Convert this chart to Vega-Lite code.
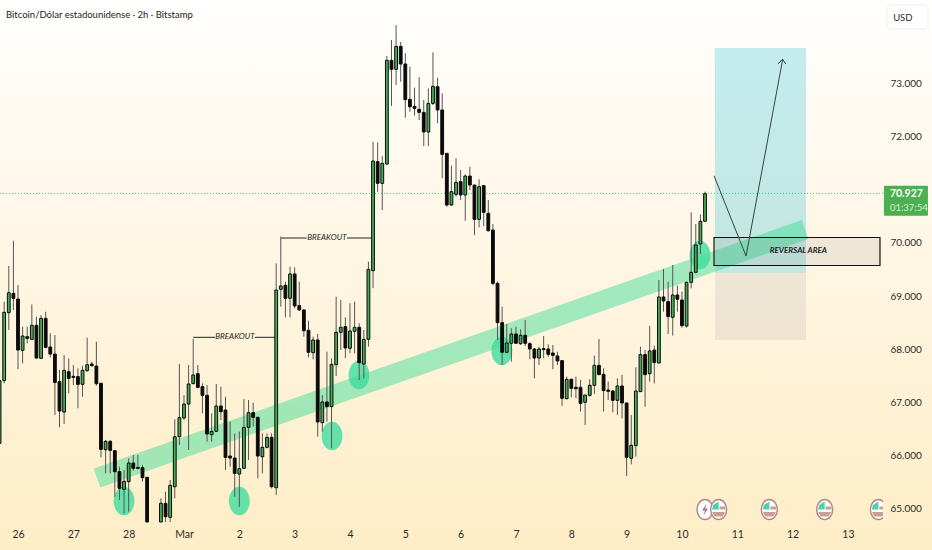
{
  "$schema": "https://vega.github.io/schema/vega-lite/v6.json",
  "description": "Bitcoin/Dolar estadounidense 2h candles with trend band and reversal area",
  "width": 932,
  "height": 550,
  "padding": 0,
  "autosize": {"type": "none"},
  "config": {
    "view": {
      "stroke": null,
      "fill": {"gradient": "linear", "x1": 0, "y1": 0, "x2": 0, "y2": 1, "stops": [
        {"offset": 0, "color": "#fffffe"},
        {"offset": 0.35, "color": "#fff8ea"},
        {"offset": 1, "color": "#feedc6"}
      ]}
    },
    "text": {"font": "Lato"},
    "axis": {"labelFont": "Lato"}
  },
  "datasets": {
    "candles": [
      {"t":-8,"o":66233,"h":67579,"l":66233,"c":67410},
      {"t":-6,"o":67410,"h":68893,"l":67360,"c":68693},
      {"t":-4,"o":68687,"h":69563,"l":68361,"c":69062},
      {"t":-2,"o":69050,"h":70039,"l":68737,"c":68956},
      {"t":0,"o":68943,"h":69206,"l":67629,"c":67986},
      {"t":2,"o":67979,"h":68424,"l":67735,"c":68249},
      {"t":4,"o":68236,"h":68424,"l":68111,"c":68205},
      {"t":6,"o":68186,"h":68843,"l":68173,"c":68449},
      {"t":8,"o":68449,"h":68612,"l":67823,"c":67835},
      {"t":10,"o":67829,"h":68643,"l":67817,"c":68580},
      {"t":12,"o":68580,"h":68705,"l":68017,"c":68036},
      {"t":14,"o":68042,"h":68299,"l":67848,"c":67910},
      {"t":16,"o":67910,"h":68267,"l":66765,"c":67378},
      {"t":18,"o":67391,"h":67610,"l":66533,"c":66840},
      {"t":20,"o":66821,"h":67892,"l":66596,"c":67604},
      {"t":22,"o":67579,"h":67829,"l":67172,"c":67453},
      {"t":24,"o":67491,"h":67704,"l":67328,"c":67472},
      {"t":26,"o":67485,"h":67641,"l":66890,"c":67341},
      {"t":28,"o":67341,"h":67691,"l":67109,"c":67604},
      {"t":30,"o":67597,"h":68217,"l":67579,"c":67710},
      {"t":32,"o":67723,"h":67767,"l":67673,"c":67691},
      {"t":34,"o":67685,"h":68142,"l":67316,"c":67353},
      {"t":36,"o":67360,"h":67372,"l":65970,"c":66120},
      {"t":38,"o":66114,"h":66295,"l":65669,"c":66270},
      {"t":40,"o":66270,"h":66295,"l":65669,"c":66101},
      {"t":42,"o":66095,"h":66108,"l":65231,"c":65701},
      {"t":44,"o":65701,"h":65795,"l":65169,"c":65388},
      {"t":46,"o":65369,"h":65732,"l":64918,"c":65519},
      {"t":48,"o":65513,"h":65951,"l":64950,"c":65863},
      {"t":50,"o":65863,"h":66014,"l":65719,"c":65763},
      {"t":52,"o":65782,"h":66014,"l":65744,"c":65763},
      {"t":54,"o":65776,"h":65826,"l":65513,"c":65588},
      {"t":56,"o":65594,"h":65607,"l":64756,"c":64756},
      {"t":62,"o":64756,"h":65200,"l":64756,"c":65106},
      {"t":64,"o":65106,"h":65325,"l":64756,"c":64855},
      {"t":66,"o":64843,"h":65544,"l":64756,"c":65444},
      {"t":68,"o":65419,"h":66684,"l":65200,"c":66358},
      {"t":70,"o":66358,"h":67723,"l":66202,"c":66715},
      {"t":72,"o":66709,"h":67140,"l":66671,"c":66971},
      {"t":74,"o":66971,"h":67704,"l":66108,"c":67347},
      {"t":76,"o":67353,"h":68192,"l":67353,"c":67516},
      {"t":78,"o":67541,"h":67704,"l":67266,"c":67284},
      {"t":80,"o":67297,"h":67360,"l":66796,"c":67134},
      {"t":82,"o":67134,"h":67328,"l":66264,"c":66408},
      {"t":84,"o":66395,"h":66796,"l":66264,"c":66458},
      {"t":86,"o":66458,"h":67347,"l":66452,"c":66934},
      {"t":88,"o":66934,"h":67297,"l":66671,"c":66827},
      {"t":90,"o":66859,"h":67109,"l":65732,"c":65970},
      {"t":92,"o":65995,"h":66640,"l":65795,"c":65957},
      {"t":94,"o":65957,"h":66420,"l":65231,"c":65669},
      {"t":96,"o":65657,"h":66452,"l":65043,"c":65757},
      {"t":98,"o":65763,"h":67065,"l":65763,"c":66533},
      {"t":100,"o":66533,"h":67047,"l":65920,"c":66809},
      {"t":102,"o":66809,"h":66997,"l":66546,"c":66721},
      {"t":104,"o":66721,"h":66734,"l":65575,"c":65995},
      {"t":106,"o":65982,"h":66420,"l":65669,"c":66158},
      {"t":108,"o":66158,"h":66420,"l":66139,"c":66345},
      {"t":110,"o":66345,"h":66420,"l":65388,"c":65419},
      {"t":112,"o":65400,"h":69613,"l":65262,"c":69112},
      {"t":114,"o":69126,"h":70115,"l":68800,"c":69188},
      {"t":116,"o":69201,"h":69270,"l":68600,"c":68957},
      {"t":118,"o":68957,"h":69551,"l":68600,"c":69414},
      {"t":120,"o":69414,"h":69539,"l":68769,"c":68813},
      {"t":122,"o":68819,"h":69270,"l":68725,"c":68738},
      {"t":124,"o":68738,"h":68750,"l":68237,"c":68349},
      {"t":126,"o":68356,"h":68537,"l":67849,"c":67943},
      {"t":128,"o":67936,"h":68237,"l":67811,"c":68174},
      {"t":130,"o":68174,"h":68287,"l":66359,"c":66634},
      {"t":132,"o":66622,"h":67141,"l":66453,"c":67010},
      {"t":134,"o":67010,"h":67955,"l":66640,"c":66922},
      {"t":136,"o":66922,"h":67830,"l":66140,"c":67717},
      {"t":138,"o":67711,"h":68988,"l":67498,"c":68318},
      {"t":140,"o":68318,"h":68925,"l":67986,"c":68412},
      {"t":142,"o":68425,"h":68600,"l":67830,"c":68024},
      {"t":144,"o":68018,"h":68863,"l":67924,"c":68343},
      {"t":146,"o":68337,"h":68894,"l":67924,"c":68412},
      {"t":148,"o":68412,"h":68487,"l":67423,"c":67748},
      {"t":150,"o":67723,"h":68362,"l":67454,"c":68187},
      {"t":152,"o":68187,"h":69645,"l":68049,"c":69501},
      {"t":154,"o":69476,"h":71898,"l":69145,"c":71535},
      {"t":156,"o":71522,"h":71886,"l":70959,"c":71116},
      {"t":158,"o":71116,"h":71629,"l":70615,"c":71491},
      {"t":160,"o":71479,"h":73507,"l":71460,"c":73426},
      {"t":162,"o":73426,"h":73807,"l":72568,"c":73257},
      {"t":164,"o":73257,"h":74089,"l":72962,"c":73688},
      {"t":166,"o":73688,"h":73770,"l":73025,"c":73357},
      {"t":168,"o":73357,"h":73557,"l":72349,"c":72687},
      {"t":170,"o":72693,"h":73307,"l":72461,"c":72555},
      {"t":172,"o":72562,"h":72912,"l":72386,"c":72524},
      {"t":174,"o":72505,"h":73106,"l":72305,"c":72449},
      {"t":176,"o":72449,"h":72681,"l":71817,"c":72080},
      {"t":178,"o":72080,"h":72900,"l":71817,"c":72618},
      {"t":180,"o":72618,"h":73576,"l":72587,"c":72937},
      {"t":182,"o":72931,"h":73100,"l":72242,"c":72493},
      {"t":184,"o":72493,"h":72806,"l":71210,"c":71660},
      {"t":186,"o":71679,"h":71679,"l":70677,"c":70709},
      {"t":188,"o":70709,"h":71447,"l":70690,"c":70959},
      {"t":190,"o":70909,"h":71585,"l":70865,"c":71134},
      {"t":192,"o":71147,"h":71366,"l":70803,"c":70897},
      {"t":194,"o":70897,"h":71285,"l":70414,"c":71253},
      {"t":196,"o":71253,"h":71429,"l":70990,"c":71084},
      {"t":198,"o":71084,"h":71084,"l":70145,"c":70439},
      {"t":200,"o":70439,"h":71191,"l":70289,"c":71053},
      {"t":202,"o":71072,"h":71084,"l":70314,"c":70571},
      {"t":204,"o":70552,"h":70803,"l":70208,"c":70227},
      {"t":206,"o":70239,"h":70352,"l":69200,"c":69238},
      {"t":208,"o":69238,"h":69270,"l":68174,"c":68500},
      {"t":210,"o":68500,"h":68800,"l":67705,"c":67943},
      {"t":212,"o":67943,"h":68475,"l":67924,"c":68118},
      {"t":214,"o":68112,"h":68393,"l":67767,"c":68287},
      {"t":216,"o":68287,"h":68425,"l":68112,"c":68112},
      {"t":218,"o":68105,"h":68375,"l":68080,"c":68262},
      {"t":220,"o":68262,"h":68550,"l":68061,"c":68112},
      {"t":222,"o":68105,"h":68130,"l":67811,"c":68005},
      {"t":224,"o":68005,"h":68018,"l":67454,"c":67836},
      {"t":226,"o":67836,"h":68049,"l":67705,"c":68005},
      {"t":228,"o":68011,"h":68249,"l":67830,"c":67993},
      {"t":230,"o":68005,"h":68093,"l":67861,"c":67905},
      {"t":232,"o":67930,"h":68080,"l":67623,"c":67886},
      {"t":234,"o":67874,"h":67955,"l":67705,"c":67780},
      {"t":236,"o":67786,"h":67799,"l":66935,"c":67079},
      {"t":238,"o":67072,"h":67486,"l":67060,"c":67435},
      {"t":240,"o":67435,"h":67454,"l":67097,"c":67266},
      {"t":242,"o":67285,"h":67486,"l":67079,"c":67260},
      {"t":244,"o":67285,"h":67423,"l":66828,"c":66985},
      {"t":246,"o":67004,"h":67141,"l":66578,"c":67141},
      {"t":248,"o":67135,"h":67435,"l":67110,"c":67323},
      {"t":250,"o":67323,"h":67880,"l":67160,"c":67698},
      {"t":252,"o":67698,"h":68193,"l":67517,"c":67523},
      {"t":254,"o":67529,"h":67642,"l":66828,"c":67223},
      {"t":256,"o":67235,"h":67392,"l":67047,"c":67210},
      {"t":258,"o":67216,"h":67235,"l":66816,"c":67041},
      {"t":260,"o":67041,"h":67454,"l":66766,"c":67310},
      {"t":262,"o":67310,"h":67517,"l":66703,"c":66991},
      {"t":264,"o":66991,"h":66997,"l":65620,"c":65971},
      {"t":266,"o":65952,"h":66766,"l":65839,"c":66196},
      {"t":268,"o":66190,"h":67661,"l":65983,"c":67216},
      {"t":270,"o":67204,"h":68049,"l":67204,"c":67899},
      {"t":272,"o":67899,"h":67986,"l":66922,"c":67523},
      {"t":274,"o":67542,"h":68437,"l":67392,"c":67968},
      {"t":276,"o":67986,"h":68068,"l":67360,"c":67748},
      {"t":278,"o":67742,"h":69301,"l":67736,"c":68982},
      {"t":280,"o":68982,"h":69508,"l":68706,"c":68907},
      {"t":282,"o":68894,"h":69270,"l":68287,"c":68612},
      {"t":284,"o":68600,"h":69583,"l":68256,"c":69019},
      {"t":286,"o":69019,"h":69195,"l":68706,"c":68938},
      {"t":288,"o":68925,"h":69082,"l":68406,"c":68443},
      {"t":290,"o":68437,"h":69270,"l":68406,"c":69257},
      {"t":292,"o":69257,"h":70572,"l":69144,"c":69445},
      {"t":294,"o":69445,"h":70353,"l":69426,"c":69958},
      {"t":296,"o":69977,"h":70534,"l":69789,"c":70403},
      {"t":298,"o":70403,"h":70960,"l":70396,"c":70922}
    ],
    "touches": [
      {"t":46,"p":65150},
      {"t":96,"p":65150},
      {"t":136.2,"p":66371},
      {"t":147.9,"p":67517},
      {"t":209.9,"p":67967},
      {"t":295.8,"p":69770}
    ],
    "flags": [
      {"t":303.9,"p":64990},
      {"t":325.9,"p":64990},
      {"t":349.9,"p":64990},
      {"t":373.2,"p":64990}
    ]
  },
  "encoding": {
    "x": {
      "field": "t",
      "type": "quantitative",
      "scale": {"domain": [-7.81, 396.46], "nice": false, "zero": false, "padding": 0},
      "axis": {
        "orient": "bottom",
        "offset": -21,
        "title": null,
        "grid": false,
        "domain": false,
        "ticks": false,
        "labelPadding": 0,
        "labelFontSize": 10.5,
        "labelColor": "#2b2b2b",
        "labelOverlap": false,
        "labelBound": false,
        "labelFlush": false,
        "values": [0,24,48,72,96,120,144,168,192,216,240,264,288,312,336,360],
        "labelExpr": "datum.value == 72 ? 'Mar' : (datum.value < 72 ? 26 + datum.value / 24 : datum.value / 24 - 2)"
      }
    },
    "y": {
      "field": "p",
      "type": "quantitative",
      "scale": {"domain": [64230, 74559], "nice": false, "zero": false},
      "axis": {
        "orient": "right",
        "offset": -42,
        "title": null,
        "grid": false,
        "domain": false,
        "ticks": false,
        "labelPadding": 0,
        "labelFontSize": 10,
        "labelColor": "#2b2b2b",
        "labelOverlap": false,
        "labelBound": false,
        "labelFlush": false,
        "values": [65000,66000,67000,68000,69000,70000,71000,72000,73000],
        "labelExpr": "replace(format(datum.value, ','), ',', '.')"
      }
    }
  },
  "layer": [
    {
      "data": {"values": [{"t":302.3,"t2":341.8,"p":73658,"p2":69432}]},
      "mark": {"type": "rect", "fill": "#4cc8dc", "opacity": 0.33},
      "encoding": {"x2": {"field": "t2"}, "y2": {"field": "p2"}}
    },
    {
      "data": {"values": [{"t":302.3,"t2":341.8,"p":69432,"p2":68174}]},
      "mark": {"type": "rect", "fill": "#787b86", "opacity": 0.13},
      "encoding": {"x2": {"field": "t2"}, "y2": {"field": "p2"}}
    },
    {
      "data": {"values": [{"t":34.27,"p":65582,"n":1},{"t":341.4,"p":70249,"n":2}]},
      "mark": {"type": "line", "stroke": "#3ddc97", "strokeWidth": 20, "strokeCap": "butt", "opacity": 0.48},
      "encoding": {"order": {"field": "n"}}
    },
    {
      "data": {"name": "touches"},
      "mark": {
        "type": "point",
        "shape": "M-0.73,0 A0.73,1 0 1,0 0.73,0 A0.73,1 0 1,0 -0.73,0 Z",
        "filled": true,
        "fill": "#3fdc9d",
        "opacity": 0.8,
        "size": 818
      }
    },
    {
      "data": {"values": [{"t":-7.8,"t2":376,"p":70927}]},
      "mark": {"type": "rule", "stroke": "#45c08c", "strokeWidth": 1, "strokeDash": [1, 2]},
      "encoding": {"x2": {"field": "t2"}}
    },
    {
      "data": {"values": [
        {"t":76,"t2":85.5,"p":68224},
        {"t":102.8,"t2":111.5,"p":68224},
        {"t":114,"t2":125.2,"p":70089},
        {"t":142.7,"t2":153.4,"p":70089}
      ]},
      "mark": {"type": "rule", "stroke": "#222222", "strokeWidth": 1},
      "encoding": {"x2": {"field": "t2"}}
    },
    {
      "data": {"values": [{"t":94.1,"p":68224,"label":"BREAKOUT"},{"t":134,"p":70089,"label":"BREAKOUT"}]},
      "mark": {"type": "text", "fontStyle": "italic", "fontSize": 8, "color": "#222222"},
      "encoding": {"text": {"field": "label"}}
    },
    {
      "data": {"name": "candles"},
      "mark": {"type": "rule", "stroke": "#555555", "strokeWidth": 1},
      "encoding": {
        "y": {"field": "l", "type": "quantitative"},
        "y2": {"field": "h"}
      }
    },
    {
      "data": {"name": "candles"},
      "mark": {"type": "bar", "size": 2.8, "orient": "vertical", "stroke": "#0c0c0c", "strokeWidth": 1},
      "encoding": {
        "y": {"field": "o", "type": "quantitative"},
        "y2": {"field": "c"},
        "fill": {
          "condition": {"test": "datum.c >= datum.o", "value": "#41ae55"},
          "value": "#0a0a0a"
        }
      }
    },
    {
      "data": {"values": [{"t":301.9,"t2":373.9,"p":70099,"p2":69573}]},
      "mark": {"type": "rect", "fill": "#787b86", "fillOpacity": 0.13, "stroke": "#111111", "strokeWidth": 1.2},
      "encoding": {"x2": {"field": "t2"}, "y2": {"field": "p2"}}
    },
    {
      "data": {"values": [{"t":338.5,"p":69836,"label":"REVERSAL AREA"}]},
      "mark": {"type": "text", "fontStyle": "italic", "fontWeight": "bold", "fontSize": 8, "color": "#222222"},
      "encoding": {"text": {"field": "label"}}
    },
    {
      "data": {"values": [
        {"t":301.9,"p":71259,"n":1},
        {"t":315.8,"p":69751,"n":2},
        {"t":331.7,"p":73445,"n":3},
        {"t":329.8,"p":73367,"n":4},
        {"t":331.7,"p":73445,"n":5},
        {"t":333,"p":73357,"n":6}
      ]},
      "mark": {"type": "line", "stroke": "#34483f", "strokeWidth": 1},
      "encoding": {"order": {"field": "n"}}
    },
    {
      "data": {"values": [{"t":298,"p":64990}]},
      "mark": {
        "type": "point",
        "shape": "M-0.8,0 A0.8,1 0 1,0 0.8,0 A0.8,1 0 1,0 -0.8,0 Z",
        "filled": true,
        "fill": "#ffffff",
        "stroke": "#b48a84",
        "strokeWidth": 1.5,
        "opacity": 1,
        "size": 400
      }
    },
    {
      "data": {"values": [{"t":298,"p":64990}]},
      "mark": {
        "type": "point",
        "shape": "M0.15,-0.6 L-0.3,0.1 L0,0.1 L-0.15,0.6 L0.3,-0.1 L0,-0.1 Z",
        "filled": true,
        "fill": "#9a7a78",
        "opacity": 1,
        "size": 400
      }
    },
    {
      "data": {"name": "flags"},
      "mark": {
        "type": "point",
        "shape": "M-0.8,0 A0.8,1 0 1,0 0.8,0 A0.8,1 0 1,0 -0.8,0 Z",
        "filled": true,
        "fill": "#ffffff",
        "stroke": "#b48a84",
        "strokeWidth": 1.5,
        "opacity": 1,
        "size": 400
      }
    },
    {
      "data": {"name": "flags"},
      "mark": {
        "type": "point",
        "shape": "M-0.55,-0.45 L0,-0.8 L0,0 L-0.65,0 Z",
        "filled": true,
        "fill": "#4fcfae",
        "opacity": 1,
        "size": 400
      }
    },
    {
      "data": {"name": "flags"},
      "mark": {
        "type": "point",
        "shape": "M0.1,-0.3 L0.65,-0.3 L0.68,0 L0.1,0 Z M-0.65,0.25 L0.65,0.25 L0.4,0.7 L-0.4,0.7 Z",
        "filled": true,
        "fill": "#c79f94",
        "opacity": 1,
        "size": 400
      }
    },
    {
      "data": {"values": [{"t":375.2,"t2":378,"p":65230,"p2":64756}]},
      "mark": {"type": "rect", "fill": "#feeecb"},
      "encoding": {"x2": {"field": "t2"}, "y2": {"field": "p2"}}
    },
    {
      "data": {"values": [{"t":375.6,"t2":394.7,"p":71072,"p2":70508}]},
      "mark": {"type": "rect", "fill": "#4caf50", "cornerRadius": 1},
      "encoding": {"x2": {"field": "t2"}, "y2": {"field": "p2"}}
    },
    {
      "data": {"values": [{"t":378.2,"p":70916,"label":"70.927"}]},
      "mark": {"type": "text", "align": "left", "fontSize": 10.5, "fontWeight": "bold", "color": "#ffffff"},
      "encoding": {"text": {"field": "label"}}
    },
    {
      "data": {"values": [{"t":378.2,"p":70653,"label":"01:37:54"}]},
      "mark": {"type": "text", "align": "left", "fontSize": 9.5, "color": "#d5efd6"},
      "encoding": {"text": {"field": "label"}}
    },
    {
      "data": {"values": [{"t":376.9,"t2":394.7,"p":74465,"p2":74014}]},
      "mark": {"type": "rect", "fill": "#ffffff", "stroke": "#f0efea", "strokeWidth": 1, "cornerRadius": 4},
      "encoding": {"x2": {"field": "t2"}, "y2": {"field": "p2"}}
    },
    {
      "data": {"values": [{"t":379.6,"p":74230,"label":"USD"}]},
      "mark": {"type": "text", "align": "left", "fontSize": 9.5, "color": "#2b2b2b"},
      "encoding": {"text": {"field": "label"}}
    },
    {
      "data": {"values": [{"t":-5.2,"p":74277,"label":"Bitcoin/Dólar estadounidense · 2h · Bitstamp"}]},
      "mark": {"type": "text", "align": "left", "fontSize": 9.5, "color": "#1c1c1c"},
      "encoding": {"text": {"field": "label"}}
    }
  ]
}
